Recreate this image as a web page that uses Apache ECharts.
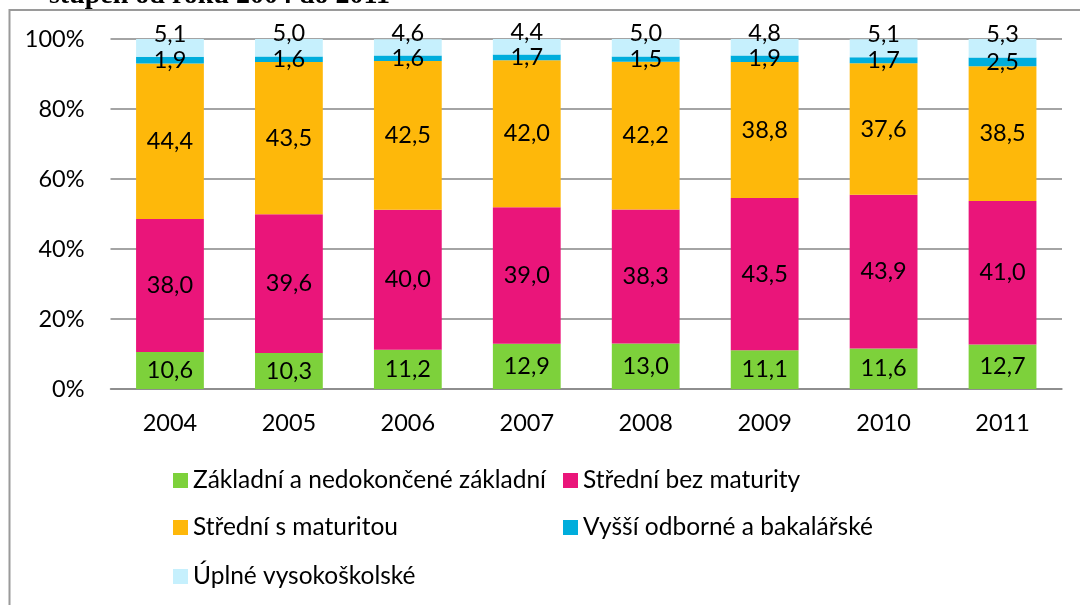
<!DOCTYPE html>
<html>
<head>
<meta charset="utf-8">
<script src="https://cdn.jsdelivr.net/npm/echarts@6/dist/echarts.min.js"></script>
<style>
  html, body { margin: 0; padding: 0; background: #fff; }
  #chart { width: 1080px; height: 605px; }
</style>
</head>
<body>
<div id="chart"></div>
<script>
const years = ["2004", "2005", "2006", "2007", "2008", "2009", "2010", "2011"];

const seriesNames = [
  "Základní a nedokončené základní",
  "Střední bez maturity",
  "Střední s maturitou",
  "Vyšší odborné a bakalářské",
  "Úplné vysokoškolské",
];

const zakladni = [10.6, 10.3, 11.2, 12.9, 13.0, 11.1, 11.6, 12.7];
const stredniBez = [38.0, 39.6, 40.0, 39.0, 38.3, 43.5, 43.9, 41.0];
const stredniS = [44.4, 43.5, 42.5, 42.0, 42.2, 38.8, 37.6, 38.5];
const vyssi = [1.9, 1.6, 1.6, 1.7, 1.5, 1.9, 1.7, 2.5];
const vysoko = [5.1, 5.0, 4.6, 4.4, 5.0, 4.8, 5.1, 5.3];

const colors = ["#7dd13b", "#ea157a", "#feb80a", "#00addc", "#c6f0fd"];

const font = "Lato";
const fontSize = 23.5;

const chart = echarts.init(document.getElementById("chart"));

const seriesData = [zakladni, stredniBez, stredniS, vyssi, vysoko];

// legend placed item by item like the Excel layout (2 columns)
const legendPos = [
  { left: 173, top: 468 },
  { left: 563, top: 468 },
  { left: 173, top: 515 },
  { left: 563, top: 515 },
  { left: 173, top: 564 },
];

const options = {
  animation: false,
  color: colors,
  textStyle: { fontFamily: font },
  grid: {
    left: 110.5,
    right: 18,
    top: 39,
    bottom: 216,
  },
  legend: seriesNames.map((name, i) => ({
    data: [name],
    left: legendPos[i].left,
    top: legendPos[i].top,
    padding: 0,
    icon: "rect",
    itemWidth: 15,
    itemHeight: 15,
    selectedMode: false,
    textStyle: { fontFamily: font, fontSize: 24.5, color: "#000" },
  })),
  xAxis: {
    type: "category",
    data: years,
    axisTick: { show: false },
    axisLine: { lineStyle: { color: "#868686", width: 1.5 } },
    axisLabel: {
      color: "#000",
      fontFamily: font,
      fontSize: fontSize,
      margin: 22,
    },
  },
  yAxis: {
    type: "value",
    min: 0,
    max: 100,
    interval: 20,
    axisLine: { show: false },
    axisTick: { show: false },
    splitLine: { lineStyle: { color: "#868686", width: 1.5 } },
    axisLabel: {
      formatter: "{value}%",
      color: "#000",
      fontFamily: font,
      fontSize: fontSize,
      margin: 26,
    },
  },
  series: seriesNames.map((name, i) => ({
    name: name,
    type: "bar",
    stack: "total",
    barWidth: "57%",
    data: seriesData[i],
    label: {
      show: true,
      position: "inside",
      offset: i === 4 ? [0, -14] : [0, 0],
      color: "#000",
      fontFamily: font,
      fontSize: fontSize,
      formatter: (p) => p.value.toFixed(1).replace(".", ","),
    },
  })),
  graphic: [
    {
      type: "rect",
      shape: { x: 9.5, y: 10, width: 1200, height: 800 },
      style: { fill: "none", stroke: "#9a9a9a", lineWidth: 2 },
      silent: true,
    },
    {
      type: "text",
      x: 390,
      y: 10,
      style: {
        text: "stupeň od roku 2004 do 2011",
        font: "bold 28px 'Liberation Serif'",
        fill: "#000",
        textAlign: "right",
        textVerticalAlign: "bottom",
      },
      silent: true,
    },
  ],
};

chart.setOption(options);
</script>
</body>
</html>
